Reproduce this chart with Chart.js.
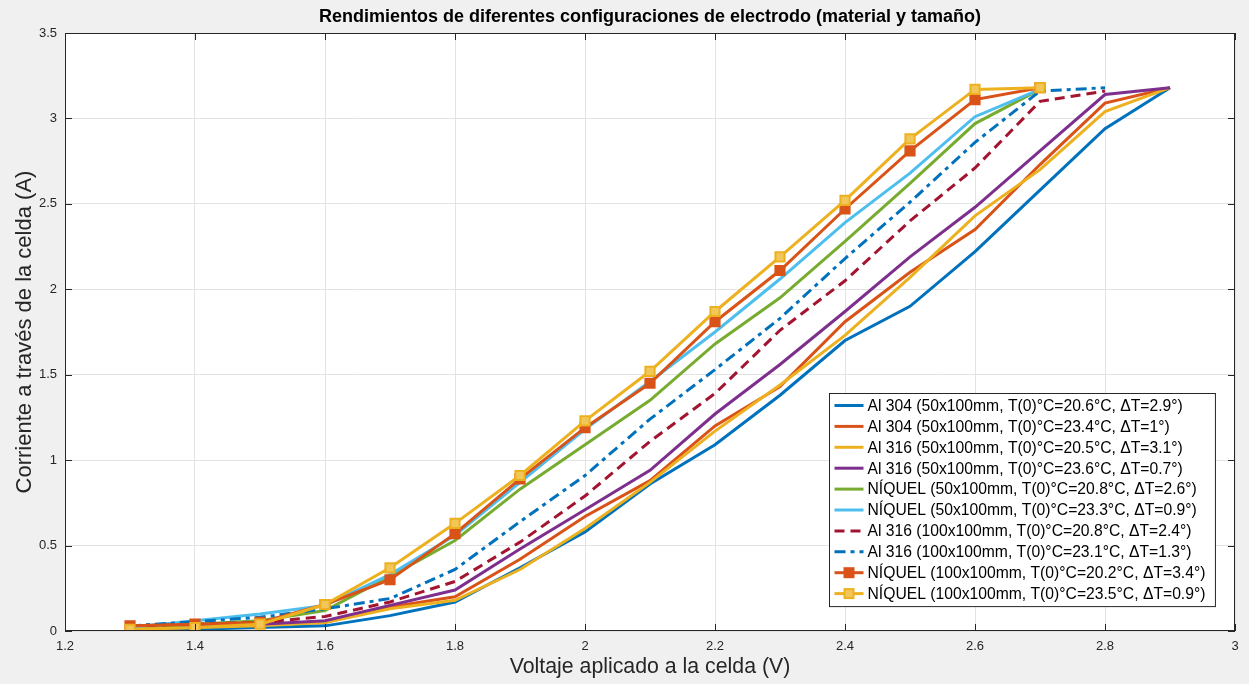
<!DOCTYPE html>
<html>
<head>
<meta charset="utf-8">
<script src="https://cdn.jsdelivr.net/npm/chart.js@4.4.0/dist/chart.umd.min.js"></script>
<style>
  body { margin: 0; background: #F0F0F0; }
  #wrap { width: 1249px; height: 684px; }
</style>
</head>
<body>
<div id="wrap"><canvas id="myChart" width="1249" height="684"></canvas></div>
<script>
// ----------- DATA ------------
const chart_title = 'Rendimientos de diferentes configuraciones de electrodo (material y tamaño)';
const x_title = 'Voltaje aplicado a la celda (V)';
const y_title = 'Corriente a través de la celda (A)';

const volts = [1.3, 1.4, 1.5, 1.6, 1.7, 1.8, 1.9, 2.0, 2.1, 2.2, 2.3, 2.4, 2.5, 2.6, 2.7, 2.8, 2.9];

const series_labels = [
  'Al 304 (50x100mm, T(0)°C=20.6°C, ΔT=2.9°)',
  'Al 304 (50x100mm, T(0)°C=23.4°C, ΔT=1°)',
  'Al 316 (50x100mm, T(0)°C=20.5°C, ΔT=3.1°)',
  'Al 316 (50x100mm, T(0)°C=23.6°C, ΔT=0.7°)',
  'NÍQUEL (50x100mm, T(0)°C=20.8°C, ΔT=2.6°)',
  'NÍQUEL (50x100mm, T(0)°C=23.3°C, ΔT=0.9°)',
  'Al 316 (100x100mm, T(0)°C=20.8°C, ΔT=2.4°)',
  'Al 316 (100x100mm, T(0)°C=23.1°C, ΔT=1.3°)',
  'NÍQUEL (100x100mm, T(0)°C=20.2°C, ΔT=3.4°)',
  'NÍQUEL (100x100mm, T(0)°C=23.5°C, ΔT=0.9°)'
];

const al304_206 = [0.005, 0.01, 0.02, 0.03, 0.09, 0.17, 0.37, 0.58, 0.86, 1.09, 1.38, 1.70, 1.90, 2.22, 2.58, 2.94, 3.18];
const al304_234 = [0.02, 0.03, 0.04, 0.05, 0.14, 0.20, 0.42, 0.67, 0.88, 1.20, 1.43, 1.81, 2.10, 2.35, 2.73, 3.09, 3.18];
const al316_205 = [0.01, 0.02, 0.03, 0.05, 0.13, 0.18, 0.36, 0.60, 0.87, 1.17, 1.44, 1.73, 2.07, 2.43, 2.70, 3.04, 3.18];
const al316_236 = [0.02, 0.03, 0.04, 0.06, 0.15, 0.24, 0.48, 0.71, 0.94, 1.27, 1.56, 1.87, 2.19, 2.48, 2.81, 3.14, 3.18];
const niq50_208 = [0.02, 0.04, 0.06, 0.12, 0.32, 0.53, 0.83, 1.09, 1.35, 1.68, 1.95, 2.28, 2.62, 2.97, 3.17];
const niq50_233 = [0.02, 0.06, 0.10, 0.15, 0.33, 0.56, 0.87, 1.18, 1.46, 1.75, 2.06, 2.39, 2.68, 3.01, 3.17];
const al316L_208 = [0.03, 0.04, 0.05, 0.085, 0.17, 0.29, 0.52, 0.79, 1.11, 1.39, 1.76, 2.05, 2.40, 2.71, 3.10, 3.16];
const al316L_231 = [0.03, 0.055, 0.08, 0.13, 0.19, 0.36, 0.64, 0.91, 1.24, 1.53, 1.83, 2.18, 2.51, 2.86, 3.16, 3.18];
const niq100_202 = [0.03, 0.04, 0.05, 0.155, 0.30, 0.57, 0.89, 1.19, 1.45, 1.81, 2.11, 2.47, 2.81, 3.11, 3.18];
const niq100_235 = [0.01, 0.02, 0.04, 0.155, 0.37, 0.63, 0.91, 1.23, 1.52, 1.87, 2.19, 2.52, 2.88, 3.17, 3.18];

const series_values = [al304_206, al304_234, al316_205, al316_236, niq50_208, niq50_233,
                       al316L_208, al316L_231, niq100_202, niq100_235];

// MATLAB default colours
const series_colors = ['#0072BD', '#D95319', '#EDB120', '#7E2F8E', '#77AC30', '#4DBEEE',
                       '#A2142F', '#0072BD', '#D95319', '#EDB120'];
const series_dash = [[], [], [], [], [], [], [10, 6], [11, 5, 4, 5], [], []];
const series_marker = [false, false, false, false, false, false, false, false, true, true];
const marker_fill = [null, null, null, null, null, null, null, null, '#D95319', '#F2C75A'];

const FONT = '"Liberation Sans", Arial, Helvetica, sans-serif';

// ----------- BUILD DATASETS ------------
const datasets = series_values.map((vals, i) => ({
  label: series_labels[i],
  data: vals.map((v, k) => ({ x: volts[k], y: v })),
  borderColor: series_colors[i],
  backgroundColor: series_colors[i],
  borderWidth: 3,
  borderDash: series_dash[i],
  tension: 0,
  fill: false,
  order: 20 - i,
  pointRadius: series_marker[i] ? 6.5 : 0,
  pointHoverRadius: 0,
  pointStyle: 'rect',
  pointBackgroundColor: marker_fill[i] || series_colors[i],
  pointBorderColor: series_colors[i],
  pointBorderWidth: 2
}));

// ----------- FRAME, TITLE & LEGEND PLUGIN ------------
const matlabFrame = {
  id: 'matlabFrame',
  beforeDraw(chart) {
    // white axes background
    const { ctx, chartArea: a } = chart;
    ctx.save();
    ctx.fillStyle = '#FFFFFF';
    ctx.fillRect(a.left, a.top, a.width, a.height);
    ctx.restore();
  },
  afterDraw(chart) {
    const { ctx, chartArea: a, scales } = chart;
    ctx.save();

    // inside ticks + box
    ctx.strokeStyle = '#262626';
    ctx.lineWidth = 1;
    ctx.beginPath();
    scales.x.ticks.forEach(t => {
      const px = Math.round(scales.x.getPixelForValue(t.value)) + 0.5;
      ctx.moveTo(px, a.bottom); ctx.lineTo(px, a.bottom - 7);
      ctx.moveTo(px, a.top); ctx.lineTo(px, a.top + 7);
    });
    scales.y.ticks.forEach(t => {
      const py = Math.round(scales.y.getPixelForValue(t.value)) + 0.5;
      ctx.moveTo(a.left, py); ctx.lineTo(a.left + 7, py);
      ctx.moveTo(a.right, py); ctx.lineTo(a.right - 7, py);
    });
    ctx.stroke();
    ctx.strokeRect(Math.round(a.left) + 0.5, Math.round(a.top) + 0.5,
                   Math.round(a.width) - 1, Math.round(a.height) - 1);

    // title
    ctx.fillStyle = '#000';
    ctx.font = 'bold 18px ' + FONT;
    ctx.textAlign = 'center';
    ctx.textBaseline = 'middle';
    ctx.fillText(chart_title, (a.left + a.right) / 2, 17);

    // legend (inside, lower right)
    ctx.font = '15.7px ' + FONT;
    let maxW = 0;
    series_labels.forEach(s => { maxW = Math.max(maxW, ctx.measureText(s).width); });
    const rowH = 20.9;
    const sampleW = 29;
    const boxW = 5 + sampleW + 4 + maxW + 10;
    const boxH = rowH * (series_labels.length - 1) + 25;
    const bx = Math.round(a.right - 20 - boxW) + 0.5;
    const by = Math.round(a.bottom - 25 - boxH) + 0.5;
    ctx.fillStyle = '#fff';
    ctx.fillRect(bx, by, boxW, boxH);
    ctx.strokeStyle = '#262626';
    ctx.lineWidth = 1;
    ctx.strokeRect(bx, by, boxW, boxH);

    ctx.textAlign = 'left';
    series_labels.forEach((s, i) => {
      const cy = by + 12 + rowH * i;
      const x0 = bx + 5;
      ctx.strokeStyle = series_colors[i];
      ctx.lineWidth = 3;
      ctx.setLineDash(series_dash[i]);
      ctx.beginPath();
      ctx.moveTo(x0, cy); ctx.lineTo(x0 + sampleW, cy);
      ctx.stroke();
      ctx.setLineDash([]);
      if (series_marker[i]) {
        ctx.fillStyle = marker_fill[i];
        ctx.lineWidth = 2;
        ctx.fillRect(x0 + sampleW / 2 - 4.5, cy - 4.5, 9, 9);
        ctx.strokeRect(x0 + sampleW / 2 - 4.5, cy - 4.5, 9, 9);
      }
      ctx.fillStyle = '#000';
      ctx.fillText(s, x0 + sampleW + 4, cy + 1);
    });
    ctx.restore();
  }
};

// ----------- CHART ------------
function chart_layout() {
  new Chart(document.getElementById('myChart'), {
    type: 'line',
    data: { datasets: datasets },
    plugins: [matlabFrame],
    options: {
      responsive: false,
      animation: false,
      layout: { padding: { top: 33, right: 14, left: 0, bottom: 0 } },
      plugins: {
        legend: { display: false },
        title: { display: false },
        tooltip: { enabled: false }
      },
      scales: {
        x: {
          type: 'linear',
          min: 1.2,
          max: 3,
          afterFit: s => { s.height = 53; },
          border: { display: false },
          grid: { color: '#E3E3E3', drawTicks: false },
          ticks: {
            stepSize: 0.2,
            padding: 8,
            color: '#262626',
            font: { family: FONT, size: 13 },
            maxRotation: 0,
            callback: v => String(Math.round(v * 10) / 10)
          },
          title: {
            display: true,
            text: x_title,
            color: '#262626',
            font: { family: FONT, size: 21.3 },
            padding: { top: 0, bottom: 4 }
          }
        },
        y: {
          type: 'linear',
          min: 0,
          max: 3.5,
          afterFit: s => { s.width = 65; },
          border: { display: false },
          grid: { color: '#E3E3E3', drawTicks: false },
          ticks: {
            stepSize: 0.5,
            padding: 8,
            color: '#262626',
            font: { family: FONT, size: 13 },
            callback: v => String(Math.round(v * 10) / 10)
          },
          title: {
            display: true,
            text: y_title,
            color: '#262626',
            font: { family: FONT, size: 22 },
            padding: { top: 12, bottom: 0 }
          }
        }
      }
    }
  });
}

document.addEventListener('DOMContentLoaded', function () {
  chart_layout();
});
</script>
</body>
</html>
